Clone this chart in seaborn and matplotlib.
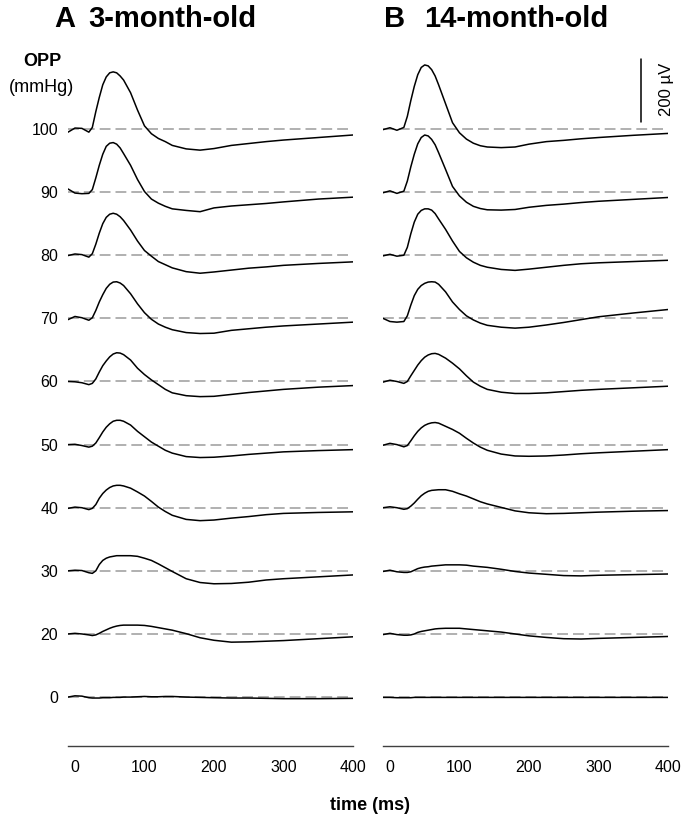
import matplotlib as mpl
import matplotlib.pyplot as plt
import seaborn as sns
import numpy as np
import pandas as pd

# Set matplotlib backend so figures don't pop up
mpl.use('agg')

'''ERG traces at different ocular perfusion pressures, 3- vs 14-month-old'''

# Sample times (ms)
time_ms = [-10, 0, 10, 20, 25, 30, 35, 40, 45, 50, 55, 60, 65, 70, 80,
           90, 100, 110, 120, 130, 140, 160, 180, 200, 225, 250, 275, 300, 350, 400]

# OPP levels (mmHg), bottom to top
opp_levels = [0, 20, 30, 40, 50, 60, 70, 80, 90, 100]

# Panel A, 3-month-old (uV)
a_0 = [0, 4, 3, -2, -3, -3, -3, -2, -2, -2, -1, -1, -1, 0, 0, 1, 2, 1, 1, 2, 2, 0, -1, -2, -3, -3, -4, -5, -5, -4]
a_20 = [0, 2, 0, -3, -5, -3, 2, 8, 13, 18, 22, 25, 27, 28, 28, 28, 27, 24, 20, 16, 12, 1, -12, -20, -26, -25, -23, -21, -15, -9]
a_30 = [0, 2, 1, -6, -8, 0, 20, 33, 40, 44, 46, 48, 48, 48, 48, 46, 40, 33, 22, 10, -2, -25, -37, -41, -40, -36, -29, -25, -19, -13]
a_40 = [-2, 2, 0, -6, -2, 10, 30, 45, 56, 64, 69, 71, 71, 69, 62, 50, 37, 20, 2, -12, -24, -37, -41, -39, -33, -28, -22, -18, -15, -13]
a_50 = [0, 1, -3, -8, -5, 5, 22, 40, 55, 66, 74, 77, 77, 74, 62, 42, 25, 8, -5, -18, -27, -38, -41, -40, -36, -31, -27, -23, -19, -16]
a_60 = [0, -1, -4, -10, -6, 8, 30, 50, 65, 78, 87, 91, 90, 85, 68, 42, 22, 5, -10, -25, -36, -45, -48, -47, -41, -35, -30, -25, -18, -13]
a_70 = [-4, 6, 2, -6, 2, 25, 52, 75, 95, 108, 115, 116, 112, 104, 78, 46, 18, -3, -18, -28, -36, -45, -48, -47, -38, -33, -28, -24, -18, -12]
a_80 = [-1, 4, 2, -6, 5, 35, 70, 100, 120, 130, 133, 130, 122, 110, 80, 45, 15, -3, -20, -30, -40, -52, -57, -53, -47, -41, -37, -32, -26, -21]
a_90 = [10, -3, -5, -4, 8, 45, 85, 120, 145, 155, 157, 152, 140, 122, 85, 40, 2, -22, -35, -45, -53, -58, -62, -50, -44, -40, -36, -31, -22, -16]
a_100 = [-10, 3, 2, -10, 5, 55, 100, 140, 165, 178, 181, 178, 168, 155, 115, 60, 10, -15, -30, -40, -52, -63, -67, -62, -52, -46, -40, -35, -27, -19]

# Panel B, 14-month-old (uV)
b_0 = [-1, -1, -2, -2, -2, -2, -1, -1, -1, -1, -1, -1, -1, -1, -1, -1, -1, -1, -1, -1, -1, -1, -1, -1, -1, -1, -1, -1, -1, -1]
b_20 = [-2, 2, -2, -4, -4, -3, 0, 5, 8, 10, 12, 14, 16, 17, 18, 18, 18, 16, 14, 12, 10, 6, 0, -6, -11, -15, -16, -14, -11, -8]
b_30 = [-2, 2, -3, -5, -5, -3, 2, 7, 10, 12, 13, 15, 16, 17, 19, 19, 19, 18, 15, 13, 11, 5, -2, -7, -11, -15, -16, -14, -12, -10]
b_40 = [0, 3, 0, -5, -3, 5, 15, 27, 38, 46, 52, 55, 56, 57, 57, 52, 44, 37, 28, 19, 12, 1, -10, -16, -19, -18, -16, -14, -11, -9]
b_50 = [-2, 4, 0, -7, -3, 12, 28, 42, 53, 61, 66, 69, 70, 68, 58, 48, 36, 20, 5, -8, -18, -30, -36, -37, -36, -33, -29, -26, -21, -16]
b_60 = [-2, 4, 0, -6, 0, 18, 35, 52, 66, 77, 84, 88, 89, 86, 74, 58, 40, 18, -2, -15, -25, -34, -38, -38, -36, -32, -28, -25, -20, -15]
b_70 = [0, -10, -12, -10, 8, 42, 72, 92, 104, 111, 115, 116, 115, 108, 84, 52, 28, 8, -5, -15, -22, -28, -31, -28, -21, -13, -4, 5, 17, 28]
b_80 = [-2, 3, -3, 0, 25, 68, 105, 130, 142, 147, 147, 143, 132, 115, 82, 45, 12, -8, -22, -32, -38, -45, -48, -44, -38, -32, -27, -24, -20, -16]
b_90 = [-2, 4, -4, 3, 35, 80, 120, 153, 173, 181, 178, 167, 150, 125, 72, 18, -12, -32, -45, -52, -56, -57, -55, -48, -42, -38, -33, -29, -23, -17]
b_100 = [-2, 4, -4, 5, 40, 90, 135, 172, 195, 203, 200, 188, 168, 140, 80, 20, -12, -32, -45, -53, -57, -59, -57, -48, -40, -36, -31, -27, -20, -14]

panel_a = [a_0, a_20, a_30, a_40, a_50, a_60, a_70, a_80, a_90, a_100]
panel_b = [b_0, b_20, b_30, b_40, b_50, b_60, b_70, b_80, b_90, b_100]

# Vertical spacing between traces (uV) - same as scale bar
level_gap = 200
scale_uv = 200

# Figure size in pixels
fig_w, fig_h = 686, 823


def to_long(traces):
    rows = []
    for i, (opp, vals) in enumerate(zip(opp_levels, traces)):
        for t, v in zip(time_ms, vals):
            rows.append({'time': t, 'opp': opp, 'uV': v, 'y': v + i * level_gap})
    return pd.DataFrame(rows)


def px(x, y):
    # pixel position -> figure fraction
    return x / fig_w, 1 - y / fig_h


sns.set_style('white')
plt.rcParams['font.family'] = ['Liberation Sans', 'DejaVu Sans']
plt.rcParams['text.color'] = 'black'
plt.rcParams['xtick.color'] = 'black'
plt.rcParams['ytick.color'] = 'black'

fig = plt.figure(figsize=(fig_w / 100, fig_h / 100), dpi=100)
ax_a = fig.add_axes([68 / fig_w, 77 / fig_h, 285 / fig_w, 706 / fig_h])
ax_b = fig.add_axes([383 / fig_w, 77 / fig_h, 285 / fig_w, 706 / fig_h])

offsets = [i * level_gap for i in range(len(opp_levels))]

for ax, traces in [(ax_a, panel_a), (ax_b, panel_b)]:
    df = to_long(traces)
    for off in offsets:
        ax.axhline(off, color='#a3a3a3', lw=1.2, ls=(0, (6.5, 3)), zorder=1)
    sns.lineplot(data=df, x='time', y='y', units='opp', estimator=None,
                 sort=False, color='black', lw=1.1, legend=False, ax=ax, zorder=2)
    ax.set_xlim(-10, 400)
    ax.set_ylim(-155, 2082)
    ax.set_xticks([0, 100, 200, 300, 400])
    ax.set_xlabel('')
    ax.set_ylabel('')
    for s in ['top', 'right', 'left']:
        ax.spines[s].set_visible(False)
    ax.spines['bottom'].set_color('#404040')
    ax.spines['bottom'].set_linewidth(1.0)
    ax.tick_params(axis='x', direction='out', length=3, width=1, color='#404040',
                   labelcolor='black', labelsize=11.5, pad=7)

ax_a.set_yticks(offsets)
ax_a.set_yticklabels([str(o) for o in opp_levels])
ax_a.tick_params(axis='y', length=0, labelsize=11.5, labelcolor='black', pad=7)
ax_b.set_yticks([])

# Scale bar
bar_x = 361
bar_bottom = 1822
ax_b.plot([bar_x, bar_x], [bar_bottom, bar_bottom + scale_uv], color='black', lw=1.1)
fig.text(*px(666, 89), '200 µV', rotation=90, ha='center', va='center', fontsize=12)

# Titles and labels
fig.text(*px(54, 19), 'A', ha='left', va='center', fontsize=21, fontweight='bold')
fig.text(*px(88, 19), '3-month-old', ha='left', va='center', fontsize=21, fontweight='bold')
fig.text(*px(384, 19), 'B', ha='left', va='center', fontsize=21, fontweight='bold')
fig.text(*px(424, 19), '14-month-old', ha='left', va='center', fontsize=21, fontweight='bold')
fig.text(*px(42, 62), 'OPP', ha='center', va='center', fontsize=13, fontweight='bold')
fig.text(*px(42, 88), '(mmHg)', ha='center', va='center', fontsize=13)
fig.text(*px(370, 805), 'time (ms)', ha='center', va='center', fontsize=13, fontweight='bold')

fig.savefig('out.png', dpi=100)
